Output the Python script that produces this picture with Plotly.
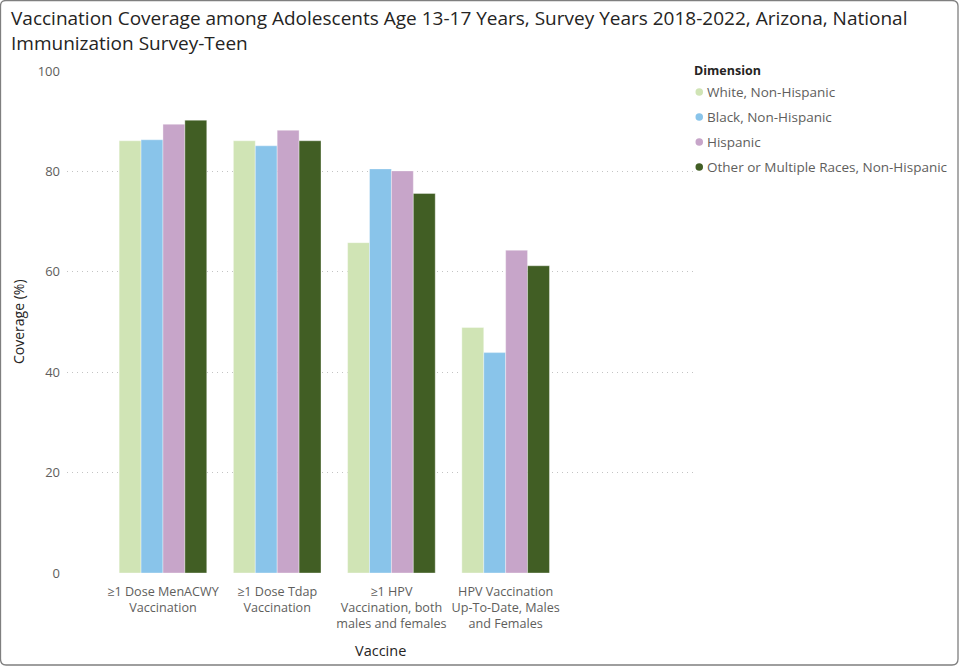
import plotly.graph_objects as go

# Vaccine categories (x axis) and coverage per race/ethnicity group
vaccines = [
    "≥1 Dose MenACWY<br>Vaccination",
    "≥1 Dose Tdap<br>Vaccination",
    "≥1 HPV<br>Vaccination, both<br>males and females",
    "HPV Vaccination<br>Up-To-Date, Males<br>and Females",
]
groups = [
    "White, Non-Hispanic",
    "Black, Non-Hispanic",
    "Hispanic",
    "Other or Multiple Races, Non-Hispanic",
]
white = [86.1, 86.1, 65.8, 48.9]
black = [86.3, 85.1, 80.5, 43.9]
hispanic = [89.4, 88.2, 80.1, 64.3]
other = [90.2, 86.1, 75.6, 61.2]
y_ticks = [0, 20, 40, 60, 80, 100]

colors = ["#D0E4B5", "#89C4EA", "#C7A5C9", "#415E24"]
series = [white, black, hispanic, other]

FONT = "Open Sans, Noto Sans, sans-serif"
TEXT_DARK = "#252423"
TEXT_GREY = "#605E5C"

W, H = 959, 666
L, R, T, B = 67, 266, 71, 93
pw, ph = W - L - R, H - T - B


def px(x):
    """page x pixel -> paper x"""
    return (x - L) / pw


def py(y):
    """page y pixel (from top) -> paper y"""
    return (H - B - y) / ph


fig = go.Figure()
for name, vals, col in zip(groups, series, colors):
    fig.add_trace(go.Bar(
        x=vaccines, y=vals, name=name, marker_color=col,
        marker_line=dict(color="rgba(255,255,255,0.6)", width=0.6),
        showlegend=False,
        hovertemplate="%{y:.1f}%<extra>" + name + "</extra>",
    ))

annotations = [
    dict(text="Vaccination Coverage among Adolescents Age 13-17 Years, Survey Years 2018-2022, Arizona, National<br>Immunization Survey-Teen",
         x=px(9), y=py(3), xref="paper", yref="paper", xanchor="left", yanchor="top",
         align="left", showarrow=False,
         font=dict(family=FONT, size=19, color=TEXT_DARK)),
    dict(text="Coverage (%)", textangle=-90,
         x=px(18), y=py(322), xref="paper", yref="paper", xanchor="center", yanchor="middle",
         showarrow=False, font=dict(family=FONT, size=14, color=TEXT_DARK)),
    dict(text="Vaccine",
         x=px(380), y=py(650), xref="paper", yref="paper", xanchor="center", yanchor="middle",
         showarrow=False, font=dict(family=FONT, size=14.5, color=TEXT_DARK)),
    dict(text="<b>Dimension</b>",
         x=px(692), y=py(70), xref="paper", yref="paper", xanchor="left", yanchor="middle",
         showarrow=False, font=dict(family=FONT, size=12.5, color=TEXT_DARK)),
]

shapes = [
    # outer card border with rounded corners
    dict(type="path", xref="paper", yref="paper",
         path=(f"M {px(6)},{py(0.5)} L {px(W - 7)},{py(0.5)} "
               f"Q {px(W - 1)},{py(0.5)} {px(W - 1)},{py(6)} "
               f"L {px(W - 1)},{py(H - 7)} Q {px(W - 1)},{py(H - 1)} {px(W - 7)},{py(H - 1)} "
               f"L {px(6)},{py(H - 1)} Q {px(0.5)},{py(H - 1)} {px(0.5)},{py(H - 7)} "
               f"L {px(0.5)},{py(6)} Q {px(0.5)},{py(0.5)} {px(6)},{py(0.5)} Z"),
         line=dict(color="#7F7F7F", width=1.3), layer="above"),
]

# legend: circle swatch + label per group
for i, (name, col) in enumerate(zip(groups, colors)):
    cy = 92 + 25 * i
    shapes.append(dict(type="circle", xref="paper", yref="paper",
                       x0=px(695.5), x1=px(703), y0=py(cy + 3.75), y1=py(cy - 3.75),
                       fillcolor=col, line=dict(width=0)))
    annotations.append(dict(text=name, x=px(705), y=py(cy), xref="paper", yref="paper",
                            xanchor="left", yanchor="middle", showarrow=False,
                            font=dict(family=FONT, size=13.5, color=TEXT_GREY)))

fig.update_layout(
    width=W, height=H,
    margin=dict(l=L, r=R, t=T, b=B, autoexpand=False),
    paper_bgcolor="white", plot_bgcolor="white",
    barmode="group", bargap=0.233, bargroupgap=0,
    font=dict(family=FONT, color=TEXT_GREY),
    showlegend=False,
    xaxis=dict(
        type="category", range=[-0.84, 4.64], automargin=False,
        showgrid=False, zeroline=False, showline=False, ticks="",
        tickangle=0, tickfont=dict(size=12.6, color=TEXT_GREY),
        ticklabelstandoff=9,
    ),
    yaxis=dict(
        range=[0, 100], tickvals=y_ticks, automargin=False,
        showgrid=True, gridcolor="#C4C4C4", griddash="1px,4px", gridwidth=1,
        zeroline=False, showline=False, ticks="",
        tickfont=dict(size=13, color=TEXT_GREY), ticklabelstandoff=6,
    ),
    annotations=annotations,
    shapes=shapes,
)

fig.write_html("out.html")
